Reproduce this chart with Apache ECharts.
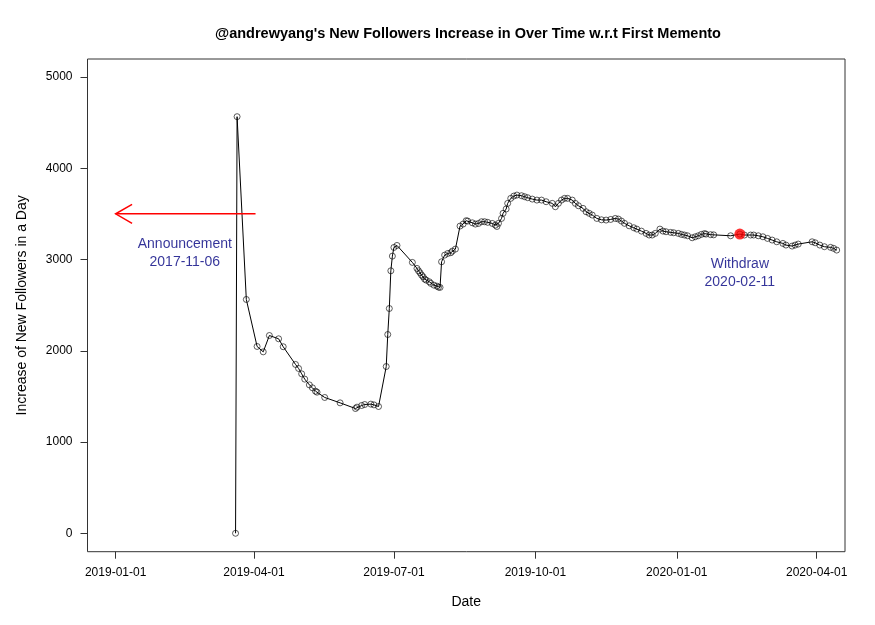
<!DOCTYPE html>
<html>
<head>
<meta charset="utf-8">
<script src="https://cdn.jsdelivr.net/npm/echarts@6/dist/echarts.min.js"></script>
<style>
html, body { margin: 0; padding: 0; background: #fff; }
#main { width: 875px; height: 625px; }
</style>
</head>
<body>
<div id="main"></div>
<script>
// daily increase of followers
var dates = [
    '2019-03-20','2019-03-21','2019-03-27','2019-04-03','2019-04-07','2019-04-11','2019-04-17','2019-04-20',
    '2019-04-28','2019-04-30','2019-05-02','2019-05-04','2019-05-07','2019-05-09','2019-05-11','2019-05-12',
    '2019-05-17','2019-05-27','2019-06-06','2019-06-07','2019-06-10','2019-06-12','2019-06-16','2019-06-18',
    '2019-06-21','2019-06-26','2019-06-27','2019-06-28','2019-06-29','2019-06-30','2019-07-01','2019-07-03',
    '2019-07-13','2019-07-16','2019-07-17','2019-07-18','2019-07-19','2019-07-20','2019-07-21','2019-07-22',
    '2019-07-24','2019-07-25','2019-07-27','2019-07-29','2019-07-30','2019-07-31','2019-08-01','2019-08-03',
    '2019-08-05','2019-08-07','2019-08-08','2019-08-10','2019-08-13','2019-08-15','2019-08-17','2019-08-18',
    '2019-08-21','2019-08-23','2019-08-25','2019-08-27','2019-08-29','2019-08-31','2019-09-03','2019-09-05',
    '2019-09-06','2019-09-07','2019-09-09','2019-09-10','2019-09-12','2019-09-13','2019-09-15','2019-09-17',
    '2019-09-19','2019-09-22','2019-09-24','2019-09-26','2019-09-29','2019-10-02','2019-10-05','2019-10-08',
    '2019-10-12','2019-10-14','2019-10-16','2019-10-18','2019-10-20','2019-10-22','2019-10-25','2019-10-27',
    '2019-10-29','2019-11-01','2019-11-03','2019-11-05','2019-11-07','2019-11-10','2019-11-13','2019-11-16',
    '2019-11-19','2019-11-22','2019-11-24','2019-11-26','2019-11-28','2019-12-01','2019-12-04','2019-12-06',
    '2019-12-09','2019-12-12','2019-12-14','2019-12-16','2019-12-18','2019-12-21','2019-12-23','2019-12-25',
    '2019-12-28','2019-12-30','2020-01-02','2020-01-04','2020-01-06','2020-01-08','2020-01-11','2020-01-13',
    '2020-01-15','2020-01-17','2020-01-19','2020-01-20','2020-01-23','2020-01-25','2020-02-05','2020-02-11',
    '2020-02-14','2020-02-18','2020-02-20','2020-02-23','2020-02-26','2020-02-29','2020-03-03','2020-03-06',
    '2020-03-10','2020-03-12','2020-03-16','2020-03-18','2020-03-20','2020-03-29','2020-03-31','2020-04-03',
    '2020-04-06','2020-04-10','2020-04-12','2020-04-14'
];
var followers = [
    0, 4565, 2562, 2047, 1988, 2167, 2131, 2044,
    1850, 1806, 1747, 1689, 1626, 1594, 1557, 1546,
    1488, 1429, 1367, 1382, 1400, 1411, 1415, 1407,
    1389, 1827, 2178, 2463, 2876, 3037, 3132, 3154,
    2968, 2902, 2876, 2854, 2829, 2810, 2785, 2774,
    2756, 2738, 2719, 2708, 2697, 2694, 2975, 3048,
    3066, 3074, 3092, 3114, 3366, 3388, 3425, 3421,
    3402, 3388, 3395, 3414, 3414, 3407, 3395, 3377,
    3362, 3396, 3450, 3506, 3553, 3615, 3670, 3695,
    3706, 3699, 3688, 3677, 3662, 3651, 3651, 3633,
    3615, 3578, 3615, 3651, 3670, 3670, 3651, 3615,
    3589, 3560, 3523, 3506, 3487, 3450, 3435, 3432,
    3439, 3450, 3443, 3421, 3396, 3369, 3348, 3333,
    3311, 3286, 3268, 3268, 3286, 3333, 3311, 3304,
    3297, 3293, 3286, 3275, 3268, 3260, 3238, 3249,
    3260, 3275, 3284, 3278, 3272, 3270, 3260, 3278,
    3268, 3268, 3268, 3260, 3249, 3231, 3213, 3194,
    3176, 3158, 3147, 3158, 3169, 3194, 3183, 3158,
    3140, 3133, 3122, 3103
];

var xTicks = ['2019-01-01', '2019-04-01', '2019-07-01', '2019-10-01', '2020-01-01', '2020-04-01'];
var yTicks = [0, 1000, 2000, 3000, 4000, 5000];

var withdrawDate = '2020-02-11';
var withdrawValue = 3278;

var arrowFrom = '2019-04-02';
var arrowTo = '2019-01-01';
var arrowValue = 3500;

var noteDates = ['2019-02-15', '2020-02-11'];
var noteValues = [3068, 2850];
var noteTexts = ['Announcement\n2017-11-06', 'Withdraw\n2020-02-11'];

function toTime(s) {
    return echarts.time.parse(s).getTime();
}

var DAY = 864e5;
var FONT = "'Liberation Sans', Arial, sans-serif";

var points = dates.map(function (d, i) { return [toTime(d), followers[i]]; });
var notes = noteDates.map(function (d, i) { return [toTime(d), noteValues[i], noteTexts[i]]; });

var myChart = echarts.init(document.getElementById('main'));

var option = {
    animation: false,
    backgroundColor: '#fff',
    title: {
        text: "@andrewyang's New Followers Increase in Over Time w.r.t First Memento",
        left: 463,
        top: 21,
        textAlign: 'center',
        textStyle: {
            fontFamily: FONT,
            fontSize: 14.5,
            fontWeight: 'bold',
            color: '#000'
        }
    },
    grid: {
        left: 87.5,
        right: 30,
        top: 59,
        bottom: 73.3,
        show: true,
        borderColor: '#333',
        borderWidth: 1,
        backgroundColor: 'transparent'
    },
    xAxis: {
        type: 'value',
        min: toTime('2019-01-01') - 18.3 * DAY,
        max: toTime('2019-01-01') + 474.4 * DAY,
        name: 'Date',
        nameLocation: 'middle',
        nameGap: 43,
        nameTextStyle: { fontFamily: FONT, fontSize: 14, color: '#000' },
        axisLine: { show: false, onZero: false },
        splitLine: { show: false },
        axisTick: {
            show: true,
            inside: false,
            length: 7,
            customValues: xTicks.map(toTime),
            lineStyle: { color: '#333' }
        },
        axisLabel: {
            customValues: xTicks.map(toTime),
            margin: 15,
            fontFamily: FONT,
            fontSize: 12,
            color: '#000',
            formatter: function (v) {
                return echarts.time.format(v, '{yyyy}-{MM}-{dd}', false);
            }
        }
    },
    yAxis: {
        type: 'value',
        min: -202,
        max: 5197,
        name: 'Increase of New Followers in a Day',
        nameLocation: 'middle',
        nameGap: 58,
        nameTextStyle: { fontFamily: FONT, fontSize: 14, color: '#000' },
        axisLine: { show: false, onZero: false },
        splitLine: { show: false },
        axisTick: {
            show: true,
            inside: false,
            length: 7,
            customValues: yTicks,
            lineStyle: { color: '#333' }
        },
        axisLabel: {
            customValues: yTicks,
            margin: 15,
            fontFamily: FONT,
            fontSize: 12,
            color: '#000',
            formatter: function (v) { return String(v); }
        }
    },
    series: [
        {
            name: 'line',
            type: 'line',
            data: points,
            symbol: 'none',
            lineStyle: { color: '#000', width: 1 },
            z: 2
        },
        {
            name: 'points',
            type: 'scatter',
            data: points,
            symbol: 'circle',
            symbolSize: 6,
            itemStyle: {
                color: 'rgba(0,0,0,0)',
                borderColor: '#000',
                borderWidth: 0.8
            },
            z: 3
        },
        {
            name: 'withdraw',
            type: 'scatter',
            data: [[toTime(withdrawDate), withdrawValue]],
            symbol: 'circle',
            symbolSize: 11,
            itemStyle: { color: '#ff0000' },
            z: 4
        },
        {
            name: 'arrow',
            type: 'custom',
            data: [[toTime(arrowFrom), arrowValue, toTime(arrowTo), arrowValue]],
            encode: { x: [0, 2], y: [1, 3] },
            renderItem: function (params, api) {
                var p0 = api.coord([api.value(0), api.value(1)]);
                var p1 = api.coord([api.value(2), api.value(3)]);
                var ang = Math.atan2(p0[1] - p1[1], p0[0] - p1[0]);
                var len = 19, a = Math.PI / 6;
                var h1 = [p1[0] + len * Math.cos(ang + a), p1[1] + len * Math.sin(ang + a)];
                var h2 = [p1[0] + len * Math.cos(ang - a), p1[1] + len * Math.sin(ang - a)];
                return {
                    type: 'group',
                    children: [
                        { type: 'line', shape: { x1: p0[0], y1: p0[1], x2: p1[0], y2: p1[1] },
                          style: { stroke: '#ff0000', lineWidth: 1.5 } },
                        { type: 'polyline', shape: { points: [h1, p1, h2] },
                          style: { stroke: '#ff0000', fill: null, lineWidth: 1.5 } }
                    ]
                };
            },
            z: 5
        },
        {
            name: 'notes',
            type: 'scatter',
            data: notes,
            symbolSize: 1,
            itemStyle: { color: 'rgba(0,0,0,0)' },
            label: {
                show: true,
                position: 'inside',
                formatter: function (p) { return p.data[2]; },
                fontFamily: FONT,
                fontSize: 14,
                lineHeight: 18,
                color: '#000080'
            },
            z: 6
        }
    ]
};

myChart.setOption(option);
</script>
</body>
</html>
